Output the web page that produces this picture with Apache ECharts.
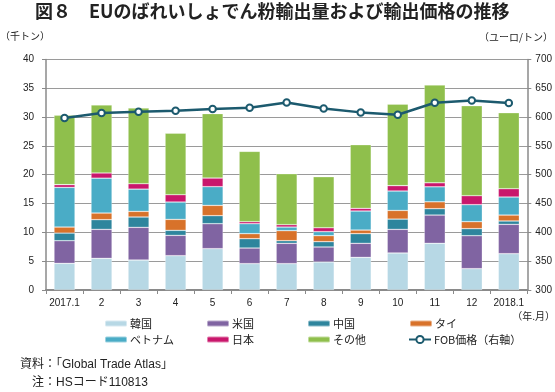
<!DOCTYPE html>
<html>
<head>
<meta charset="utf-8">
<script src="https://cdn.jsdelivr.net/npm/echarts@6/dist/echarts.min.js"></script>
<style>
html,body{margin:0;padding:0;background:#fff;}
#chart{width:555px;height:392px;}
</style>
</head>
<body>
<div id="chart"></div>
<script>
var categories = ['2017.1','2','3','4','5','6','7','8','9','10','11','12','2018.1'];
var korea   = [4.62,5.49,5.2,5.95,7.17,4.57,4.57,4.86,5.66,6.42,8.1,3.7,6.3];
var usa     = [3.93,5.03,5.67,3.53,4.33,2.71,3.53,2.6,2.44,4.1,4.9,5.72,5.09];
var china   = [1.33,1.68,1.79,0.87,1.39,1.62,0.45,0.92,1.67,1.78,1.1,1.22,0.58];
var thai    = [1.04,1.15,0.98,1.9,1.79,0.87,1.74,1.04,0.63,1.5,1.2,1.21,1.03];
var vietnam = [6.88,6.05,3.86,3.01,3.24,1.73,0.63,0.7,3.3,3.37,2.6,2.95,3.13];
var japan   = [0.47,0.9,0.94,1.27,1.5,0.35,0.41,0.68,0.46,0.93,0.7,1.56,1.44];
var others  = [12.03,11.8,13.12,10.67,11.18,12.2,8.84,8.85,11.04,14.15,16.95,15.61,13.18];
var fobPrice = [598.3,606.9,609.2,611,613.9,616.2,625.4,615,608.1,604,624.9,628.9,624.3];
var leftTicks = {min:0, max:40, interval:5};
var rightTicks = {min:300, max:700, interval:50};

var names = ['韓国','米国','中国','タイ','ベトナム','日本','その他','FOB価格（右軸）'];
var colors = ['#b7d8e5','#8064a2','#2e859d','#d8722a','#4aacc6','#c9176c','#8fbf4c','#1c5a6e'];
var barData = [korea, usa, china, thai, vietnam, japan, others];

var FONT = '"Liberation Sans", Arial, "Noto Sans CJK JP", sans-serif';
var JFONT = '"Noto Sans CJK JP", sans-serif';

var series = barData.map(function(d, i){
  return {
    name: names[i], type: 'bar', stack: 'total', data: d, barWidth: 21,
    itemStyle: {color: colors[i], borderColor: 'rgba(255,255,255,0.45)', borderWidth: 0.6},
    emphasis: {disabled: true}
  };
});
series.push({
  name: names[7], type: 'line', yAxisIndex: 1, data: fobPrice,
  symbol: 'emptyCircle', symbolSize: 6.5,
  lineStyle: {color: colors[7], width: 2.5},
  itemStyle: {color: colors[7], borderWidth: 1.5},
  z: 5
});

var legendPos = [[104,318],[206,318],[307,318],[409,318],[104,334],[206,334],[307,334],[408,334]];
var legends = names.map(function(n, i){
  var isLine = i === 7;
  return {
    data: [n], left: legendPos[i][0], top: legendPos[i][1],
    padding: 0, itemWidth: 22, itemHeight: isLine ? 9 : 6, itemGap: 0,
    selectedMode: false,
    textStyle: {fontSize: 11, color: '#222', fontFamily: JFONT, padding: [0,0,0,-2]}
  };
});

var chart = echarts.init(document.getElementById('chart'), null, {renderer: 'canvas'});
chart.setOption({
  animation: false,
  textStyle: {fontFamily: FONT},
  title: {
    text: '図８　EUのばれいしょでん粉輸出量および輸出価格の推移',
    left: 35, top: 2, padding: 0,
    textStyle: {fontSize: 18, fontWeight: 'bold', color: '#222', fontFamily: JFONT}
  },
  legend: legends,
  grid: {left: 46, right: 26, top: 59.4, bottom: 102},
  xAxis: {
    type: 'category', data: categories,
    axisLine: {lineStyle: {color: '#8a8a8a', width: 2}},
    axisTick: {show: true, length: 4, lineStyle: {color: '#8a8a8a'}},
    axisLabel: {fontSize: 10, color: '#222', margin: 8, interval: 0}
  },
  yAxis: [{
    type: 'value', min: leftTicks.min, max: leftTicks.max, interval: leftTicks.interval,
    axisLine: {show: true, lineStyle: {color: '#8a8a8a', width: 1.5}},
    axisTick: {show: true, length: 4, lineStyle: {color: '#8a8a8a'}},
    axisLabel: {fontSize: 10, color: '#222', margin: 12},
    splitLine: {lineStyle: {color: '#9a9a9a', width: 1}}
  },{
    type: 'value', min: rightTicks.min, max: rightTicks.max, interval: rightTicks.interval,
    position: 'right',
    axisLine: {show: true, lineStyle: {color: '#8a8a8a', width: 1.5}},
    axisTick: {show: true, length: 4, lineStyle: {color: '#8a8a8a'}},
    axisLabel: {fontSize: 10, color: '#222', margin: 8},
    splitLine: {show: false}
  }],
  graphic: [
    {type: 'text', left: 0, top: 31, style: {text: '（千トン）', fontSize: 10, fill: '#222', fontFamily: JFONT}},
    {type: 'text', right: 2, top: 32, style: {text: '（ユーロ/トン）', fontSize: 10, fill: '#222', fontFamily: JFONT}},
    {type: 'text', right: 0, top: 311, style: {text: '（年.月）', fontSize: 10, fill: '#222', fontFamily: JFONT}},
    {type: 'text', left: 20, top: 359, style: {text: '資料：「Global Trade Atlas」', fontSize: 12, fill: '#222', fontFamily: FONT}},
    {type: 'text', left: 32, top: 377, style: {text: '注：HSコード110813', fontSize: 12, fill: '#222', fontFamily: FONT}}
  ],
  series: series
});
</script>
</body>
</html>
